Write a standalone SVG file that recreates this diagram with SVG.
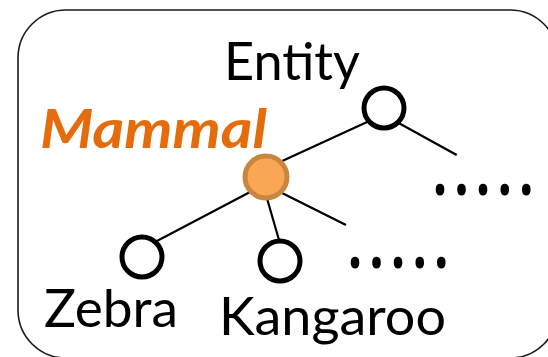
<svg xmlns="http://www.w3.org/2000/svg" width="548" height="357" viewBox="0 0 548 357">
  <style>
    .frame { fill: #ffffff; stroke: #1a1a1a; stroke-width: 1.6; }
    .edge { stroke: #000000; stroke-width: 2.2; stroke-linecap: butt; fill: none; }
    .node { fill: #ffffff; stroke: #000000; stroke-width: 5; }
    .focus { fill: #F9A755; stroke: #C8863F; stroke-width: 5; }
    .label { font-family: Lato, "Liberation Sans", sans-serif; font-size: 53px; fill: #000000; }
    .accent { font-family: Lato, "Liberation Sans", sans-serif; font-size: 53px; font-weight: bold; font-style: italic; fill: #E46C0A; }
    .more { font-family: "Noto Sans", "DejaVu Sans", sans-serif; font-size: 50px; font-weight: bold; fill: #000000; letter-spacing: 7.5px; }
  </style>

  <!-- rounded frame around the taxonomy -->
  <rect class="frame" x="18" y="10" width="540" height="348" rx="48" ry="48"/>

  <!-- connectors -->
  <g id="edges">
    <line class="edge" x1="268" y1="167.5" x2="372" y2="119.8"/>
    <line class="edge" x1="395" y1="121" x2="456.7" y2="155"/>
    <line class="edge" x1="155" y1="242" x2="252" y2="191"/>
    <line class="edge" x1="264" y1="188" x2="279" y2="240"/>
    <line class="edge" x1="276" y1="190" x2="346" y2="225"/>
  </g>

  <g id="entity">
    <circle class="node" cx="384" cy="108" r="20"/>
    <text class="label" x="224" y="80" textLength="136" lengthAdjust="spacingAndGlyphs">Entity</text>
  </g>

  <g id="mammal">
    <circle class="focus" cx="266" cy="177" r="21"/>
    <text class="accent" x="40" y="148" textLength="227" lengthAdjust="spacingAndGlyphs">Mammal</text>
  </g>

  <g id="zebra">
    <circle class="node" cx="142" cy="257" r="20"/>
    <text class="label" x="44" y="327" textLength="134" lengthAdjust="spacingAndGlyphs">Zebra</text>
  </g>

  <g id="kangaroo">
    <circle class="node" cx="280" cy="261" r="20"/>
    <text class="label" x="219" y="335" textLength="227" lengthAdjust="spacingAndGlyphs">Kangaroo</text>
  </g>

  <!-- ellipses marking further siblings -->
  <g id="more-entity">
    <text class="more" transform="translate(433,194.5) scale(1,1.4)">.....</text>
  </g>
  <g id="more-mammal">
    <text class="more" transform="translate(348,268.2) scale(1,1.4)">.....</text>
  </g>
</svg>
